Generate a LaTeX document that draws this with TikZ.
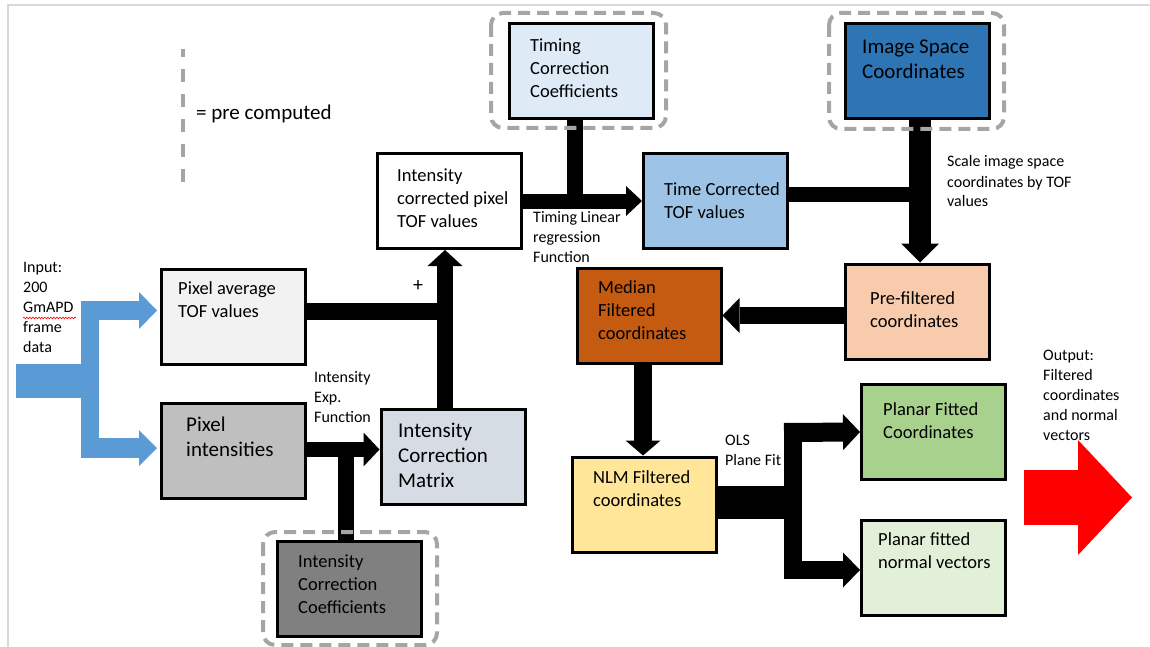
\documentclass[tikz,border=0pt]{standalone}
\usepackage{fontspec}
\setmainfont{Carlito}
\usetikzlibrary{arrows.meta,calc,decorations.pathmorphing}
\pgfdeclarelayer{links}
\pgfdeclarelayer{frames}
\pgfsetlayers{links,frames,main}

\definecolor{inblue}{HTML}{5B9BD5}
\definecolor{dashgray}{HTML}{A5A5A5}
\definecolor{pagegray}{HTML}{D9D9D9}
\definecolor{cAvg}{HTML}{F2F2F2}
\definecolor{cInt}{HTML}{BFBFBF}
\definecolor{cMat}{HTML}{D6DCE4}
\definecolor{cIcc}{HTML}{808080}
\definecolor{cTcc}{HTML}{DEEBF7}
\definecolor{cTct}{HTML}{9DC3E6}
\definecolor{cIsc}{HTML}{2E75B6}
\definecolor{cPre}{HTML}{F8CBAD}
\definecolor{cMed}{HTML}{C55A11}
\definecolor{cNlm}{HTML}{FFE699}
\definecolor{cPfc}{HTML}{A9D18E}
\definecolor{cPfn}{HTML}{E2F0D9}

% strut that fixes the height of a first line
\newcommand\fl{\rule{0pt}{0.8em}}

\begin{document}
\begin{tikzpicture}[x=1pt,y=-1pt,
  pbox/.style={draw=black, line width=3pt, minimum width=144pt, minimum height=95pt,
    inner sep=0pt, outer sep=1.5pt},
  lbl/.style={anchor=north west, inner sep=0pt, align=left, font=\fontsize{16}{20}\selectfont},
  btxt/.style={anchor=north west, inner sep=0pt, align=left, font=\fontsize{18.5}{23}\selectfont},
  bigtxt/.style={anchor=north west, inner sep=0pt, align=left, font=\fontsize{21}{25}\selectfont},
  blk/.style={draw=black},
  inflow/.style={draw=inblue},
  blockhead/.style 2 args={-{Triangle[length=#1pt,width=#2pt,line width=0pt]}},
  preframe/.style={draw=dashgray, line width=4pt, dash pattern=on 12pt off 7pt, rounded corners=12pt}
]
\useasboundingbox (0,0) rectangle (1150,647);

% page edge
\draw[pagegray, line width=1.5pt] (8,647) -- (8,5) -- (1150,5);

% legend
\begin{pgfonlayer}{frames}
\draw[dashgray, line width=4pt, dash pattern=on 13pt off 12pt, dash phase=5pt] (183,49) -- (183,182);
\end{pgfonlayer}
\node[bigtxt] (legend) at (196,102.5) {\fl= pre computed};

% process boxes
\node[pbox, fill=cAvg] (pavg) at (233.5,316.5) {};
\node[pbox, fill=cInt] (pint) at (233.5,451) {};
\node[pbox, fill=cMat] (icm)  at (453,456.5) {};
\node[pbox, fill=cIcc] (icc)  at (349.5,588.5) {};
\node[pbox, fill=white] (icp) at (449,201) {};
\node[pbox, fill=cTcc] (tcc)  at (581.5,71) {};
\node[pbox, fill=cTct] (tct)  at (715.5,201) {};
\node[pbox, fill=cIsc] (isc)  at (917,71.5) {};
\node[pbox, fill=cPre] (pre)  at (917,311.5) {};
\node[pbox, fill=cMed] (med)  at (649,315.5) {};
\node[pbox, fill=cNlm] (nlm)  at (644,504.5) {};
\node[pbox, fill=cPfc] (pfc)  at (933.5,432) {};
\node[pbox, fill=cPfn] (pfn)  at (933.5,567.5) {};

% box texts
\node[btxt]   (tAvg) at (178,279.75) {\fl Pixel average\\TOF values};
\node[bigtxt] (tInt) at (186,414.5) {\fl Pixel\\intensities};
\node[bigtxt] (tMat) at (398,420.5) {\fl Intensity\\Correction\\Matrix};
\node[btxt]   (tIcc) at (298,552.75) {\fl Intensity\\Correction\\Coefficients};
\node[btxt]   (tIcp) at (397,166.75) {\fl Intensity\\corrected pixel\\TOF values};
\node[btxt]   (tTcc) at (530,36.75) {\fl Timing\\Correction\\Coefficients};
\node[btxt]   (tTct) at (664,180.75) {\fl Time Corrected\\TOF values};
\node[bigtxt] (tIsc) at (862,36.5) {\fl Image Space\\Coordinates};
\node[btxt]   (tPre) at (870,289.75) {\fl Pre-filtered\\coordinates};
\node[btxt]   (tMed) at (598,278.75) {\fl Median\\Filtered\\coordinates};
\node[btxt]   (tNlm) at (593,468.75) {\fl NLM Filtered\\coordinates};
\node[btxt]   (tPfc) at (883,400.75) {\fl Planar Fitted\\Coordinates};
\node[btxt]   (tPfn) at (878,530.75) {\fl Planar fitted\\normal vectors};

% side labels
\node[lbl] (lIn)   at (23,259) {\fl Input:\\200\\GmAPD\\frame\\data};
\draw[red, line width=0.6pt, decorate, decoration={snake, amplitude=0.9pt, segment length=3pt}]
  (23,318) -- (76,318);
\node[lbl] (lExp)  at (314,369) {\fl Intensity\\Exp.\\Function};
\node[font=\fontsize{20}{24}\selectfont, inner sep=0pt] (lPlus) at (418,286) {+};
\node[lbl] (lLin)  at (533,209) {\fl Timing Linear\\regression\\Function};
\node[lbl] (lScl)  at (947,154) {\fl Scale image space\\coordinates by TOF\\values};
\node[lbl] (lOls)  at (725,432) {\fl OLS\\Plane Fit};
\node[lbl] (lOut)  at (1043,347) {\fl Output:\\Filtered\\coordinates\\and normal\\vectors};

% pre-computed inputs
\begin{pgfonlayer}{frames}
\draw[preframe] (263,532) rectangle (437,645);
\draw[preframe] (491,13) rectangle (666,128);
\draw[preframe] (829,13) rectangle (1004,129);
\end{pgfonlayer}

% data flow
\begin{pgfonlayer}{links}
% input frames split into two streams
\coordinate (src) at (16,381);
\draw[inflow, line width=34pt] (src) -- (99,381);
\draw[inflow, line width=18pt] (90,301) -- (90,458);
\draw[inflow, line width=19pt, blockhead={18}{37}] (81,310.5) -- ($(pavg.west)+(-3,-6)$);
\draw[inflow, line width=20pt, blockhead={18}{36}] (81,448) -- ($(pint.west)+(-3,-3)$);

% average TOF plus correction matrix
\draw[blk, line width=17pt] ($(pavg.east)+(0,-5)$) -- (453,311.5);
\draw[blk, line width=16pt, blockhead={16}{35}] ($(icm.north)+(-8,0)$) -- ($(icp.south)+(-4,0)$);

% intensities and coefficients give the correction matrix
\draw[blk, line width=15pt, blockhead={16}{34}] ($(pint.east)+(0,-1.5)$) -- ($(icm.west)+(0,-7)$);
\draw[blk, line width=16pt] ($(icc.north)+(-3.5,0)$) -- (346,442);

% timing correction
\draw[blk, line width=15pt, blockhead={16}{30}] (icp.east) -- (tct.west);
\draw[blk, line width=16pt] ($(tcc.south)+(-6.5,0)$) -- (575,201);

% scaling of image space coordinates
\draw[blk, line width=15pt] ($(tct.east)+(0,-6.5)$) -- (931,194.5);
\draw[blk, line width=22pt, blockhead={19}{38}] ($(isc.south)+(3,0)$) -- ($(pre.north)+(3,0)$);

% filtering chain
\draw[blk, line width=17pt, blockhead={17}{35}] ($(pre.west)+(0,4)$) -- (med.east);
\draw[blk, line width=18pt, blockhead={15}{35}] ($(med.south)+(-6,0)$) -- ($(nlm.north)+(-1,0)$);

% plane fit
\draw[blk, line width=33pt] ($(nlm.east)+(0,-2)$) -- (802,502.5);
\draw[blk, line width=18pt] (793,423) -- (793,579);
\draw[blk, line width=19pt, blockhead={17}{36}] (784,432.5) -- (pfc.west);
\draw[blk, line width=18pt, blockhead={17}{35}] (784,570) -- ($(pfn.west)+(0,2.5)$);

% output
\coordinate (outS) at (1024,497.5);
\coordinate (outT) at (1132,497.5);
\draw[red, line width=55pt, blockhead={54}{115}] (outS) -- (outT);
\end{pgfonlayer}
\end{tikzpicture}
\end{document}
